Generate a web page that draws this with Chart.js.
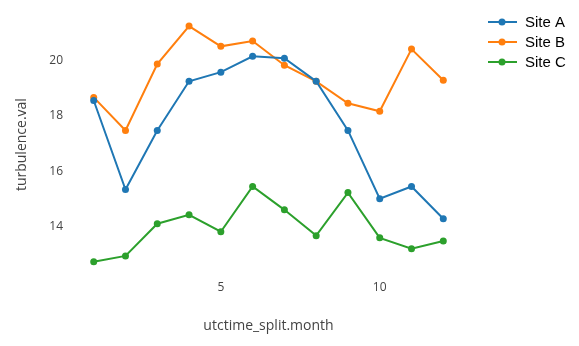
<!DOCTYPE html>
<html>
<head>
<meta charset="utf-8">
<script src="https://cdn.jsdelivr.net/npm/chart.js@4"></script>
<style>
  html, body { margin: 0; padding: 0; background: #fff; }
  #wrap { width: 579px; height: 346px; }
</style>
</head>
<body>
<div id="wrap"><canvas id="myChart" width="579" height="346"></canvas></div>
<script>
// months on the x axis
const months = [1, 2, 3, 4, 5, 6, 7, 8, 9, 10, 11, 12];
const siteA = [18.55, 15.34, 17.47, 19.24, 19.57, 20.14, 20.07, 19.24, 17.47, 15.01, 15.45, 14.29];
const siteB = [18.66, 17.47, 19.86, 21.23, 20.50, 20.69, 19.82, 19.24, 18.45, 18.16, 20.40, 19.28];
const siteC = [12.74, 12.95, 14.11, 14.43, 13.82, 15.45, 14.61, 13.68, 15.23, 13.60, 13.21, 13.49];
const seriesNames = ['Site A', 'Site B', 'Site C'];
const xTickValues = [5, 10];
const yTickValues = [14, 16, 18, 20];

const colors = ['#1f77b4', '#ff7f0e', '#2ca02c'];

function toPoints(vals) {
  return months.map((m, i) => ({ x: m, y: vals[i] }));
}

// legend drawn top right, plotly style
const sideLegend = {
  id: 'sideLegend',
  afterDraw(chart) {
    const ctx = chart.ctx;
    const ys = [22, 42, 62];
    ctx.save();
    chart.data.datasets.forEach((ds, i) => {
      const y = ys[i];
      ctx.strokeStyle = ds.borderColor;
      ctx.lineWidth = 2;
      ctx.beginPath();
      ctx.moveTo(488, y);
      ctx.lineTo(517, y);
      ctx.stroke();
      ctx.fillStyle = ds.borderColor;
      ctx.beginPath();
      ctx.arc(502, y, 3.5, 0, Math.PI * 2);
      ctx.fill();
      ctx.fillStyle = '#000';
      ctx.font = '15px "Liberation Sans", Arial, sans-serif';
      ctx.textBaseline = 'middle';
      ctx.fillText(ds.label, 525, y + 1);
    });
    ctx.restore();
  }
};

const ctx = document.getElementById('myChart').getContext('2d');
const chart = new Chart(ctx, {
  type: 'line',
  data: {
    datasets: [siteA, siteB, siteC].map((vals, i) => ({
      label: seriesNames[i],
      data: toPoints(vals),
      borderColor: colors[i],
      backgroundColor: colors[i],
      borderWidth: 2,
      pointRadius: 3.5,
      pointBorderWidth: 0,
      tension: 0
    }))
  },
  options: {
    responsive: false,
    animation: false,
    layout: { padding: { left: 0, right: 123, top: 2, bottom: 0 } },
    plugins: { legend: { display: false }, tooltip: { enabled: false } },
    scales: {
      x: {
        type: 'linear',
        min: 0.6,
        max: 12.4,
        grid: { display: false },
        border: { display: false },
        afterBuildTicks: s => { s.ticks = xTickValues.map(v => ({ value: v })); },
        afterFit: s => { s.height = 74; },
        ticks: {
          color: '#444',
          font: { family: '"Open Sans", sans-serif', size: 12 },
          padding: 0
        },
        title: {
          display: true,
          text: 'utctime_split.month',
          color: '#444',
          font: { family: '"Open Sans", sans-serif', size: 14 },
          padding: { top: 0, bottom: 12 }
        }
      },
      y: {
        min: 12.37,
        max: 21.55,
        grid: { display: false },
        border: { display: false },
        afterBuildTicks: s => { s.ticks = yTickValues.map(v => ({ value: v })); },
        afterFit: s => { s.width = 81; },
        ticks: {
          color: '#444',
          font: { family: '"Open Sans", sans-serif', size: 12 },
          padding: 10
        },
        title: {
          display: true,
          text: 'turbulence.val',
          color: '#444',
          font: { family: '"Open Sans", sans-serif', size: 14 },
          padding: { top: 14, bottom: 0 }
        }
      }
    }
  },
  plugins: [sideLegend]
});
</script>
</body>
</html>
